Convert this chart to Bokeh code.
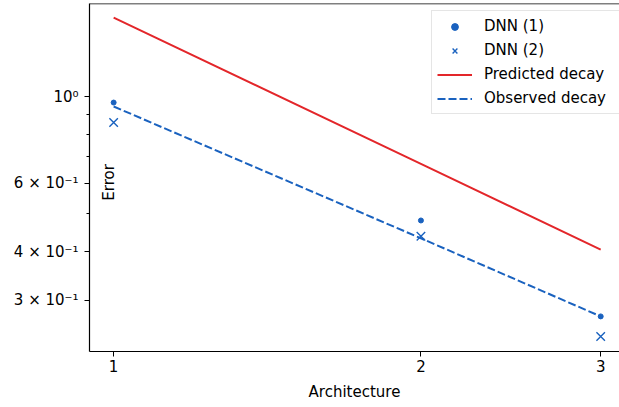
from bokeh.plotting import figure
from bokeh.models import Range1d, FixedTicker, Legend, LegendItem, Label, Span
from bokeh.embed import file_html
from bokeh.resources import INLINE

# ---- data ----
architecture = [1, 2, 3]
dnn1 = [0.965, 0.481, 0.273]
dnn2 = [0.858, 0.438, 0.2425]
predicted_decay = [1.594, 0.672, 0.405]
observed_decay = [0.943, 0.433, 0.273]

x_ticks = [1, 2, 3]
x_tick_labels = ["1", "2", "3"]
y_ticks = [0.3, 0.4, 0.6, 1.0]
y_tick_labels = ["3 × 10⁻¹", "4 × 10⁻¹", "6 × 10⁻¹", "10⁰"]
y_minor_ticks = [0.5, 0.7, 0.8, 0.9]

BLUE = "#1a62bf"
RED = "#e3262a"
FONT = "DejaVu Sans"
FS = "15px"
Y_TOP = 1.732

p = figure(width=619, height=407, x_axis_type="log", y_axis_type="log",
           x_range=Range1d(0.947, 3.13), y_range=Range1d(0.2219, Y_TOP),
           output_backend="svg", toolbar_location=None,
           min_border_left=89, min_border_right=0, min_border_top=3, min_border_bottom=56)
p.outline_line_color = None
p.xgrid.visible = False
p.ygrid.visible = False
p.background_fill_color = "white"
p.border_fill_color = "white"

r_pred = p.line(architecture, predicted_decay, line_color=RED, line_width=2)
r_obs = p.line(architecture, observed_decay, line_color=BLUE, line_width=2, line_dash="8 3")
r1 = p.scatter(architecture, dnn1, marker="circle", size=5, fill_color=BLUE, line_color=BLUE)
r2 = p.scatter(architecture, dnn2, marker="x", size=12, line_color=BLUE, line_width=1.4)

for ax in (p.xaxis[0], p.yaxis[0]):
    ax.axis_line_color = "black"
    ax.axis_line_width = 1.2
    ax.major_tick_line_color = "black"
    ax.minor_tick_line_color = "black"
    ax.major_tick_in = 0
    ax.minor_tick_in = 0
    ax.major_tick_out = 5
    ax.minor_tick_out = 3
    ax.major_label_text_font = FONT
    ax.major_label_text_font_size = FS
    ax.major_label_text_color = "black"
    ax.axis_label_text_font = FONT
    ax.axis_label_text_font_size = FS
    ax.axis_label_text_font_style = "normal"
    ax.axis_label_text_color = "black"

p.xaxis.ticker = FixedTicker(ticks=x_ticks, minor_ticks=[])
p.xaxis.major_label_overrides = {t: l for t, l in zip(x_ticks, x_tick_labels)}
p.xaxis.major_label_standoff = 3
p.xaxis.axis_label = "Architecture"
p.xaxis.axis_label_standoff = 8

p.yaxis.ticker = FixedTicker(ticks=y_ticks, minor_ticks=y_minor_ticks)
p.yaxis.major_label_overrides = {t: l for t, l in zip(y_ticks, y_tick_labels)}
p.yaxis.major_label_standoff = 6

# top spine (the right side of the axes box is cut off in the reference)
p.add_layout(Span(location=Y_TOP, dimension="width", line_color="black", line_width=1.5))

p.add_layout(Label(x=0.9888, y=0.602, text="Error", angle=1.5708, text_align="center",
                   text_baseline="middle", text_font=FONT, text_font_size=FS, text_color="black"))

legend = Legend(items=[
    LegendItem(label="DNN (1)", renderers=[r1]),
    LegendItem(label="DNN (2)", renderers=[r2]),
    LegendItem(label="Predicted decay", renderers=[r_pred]),
    LegendItem(label="Observed decay", renderers=[r_obs]),
], location=(342, 237))
legend.padding = 5
legend.margin = 0
legend.spacing = 4
legend.label_height = 20
legend.glyph_height = 17
legend.glyph_width = 35
legend.label_standoff = 12
legend.label_width = 130
legend.label_text_font = FONT
legend.label_text_font_size = FS
legend.label_text_color = "black"
legend.border_line_color = "#cccccc"
legend.border_line_width = 1
legend.background_fill_alpha = 0.8
p.add_layout(legend)

open("out.html", "w").write(file_html(p, INLINE))
